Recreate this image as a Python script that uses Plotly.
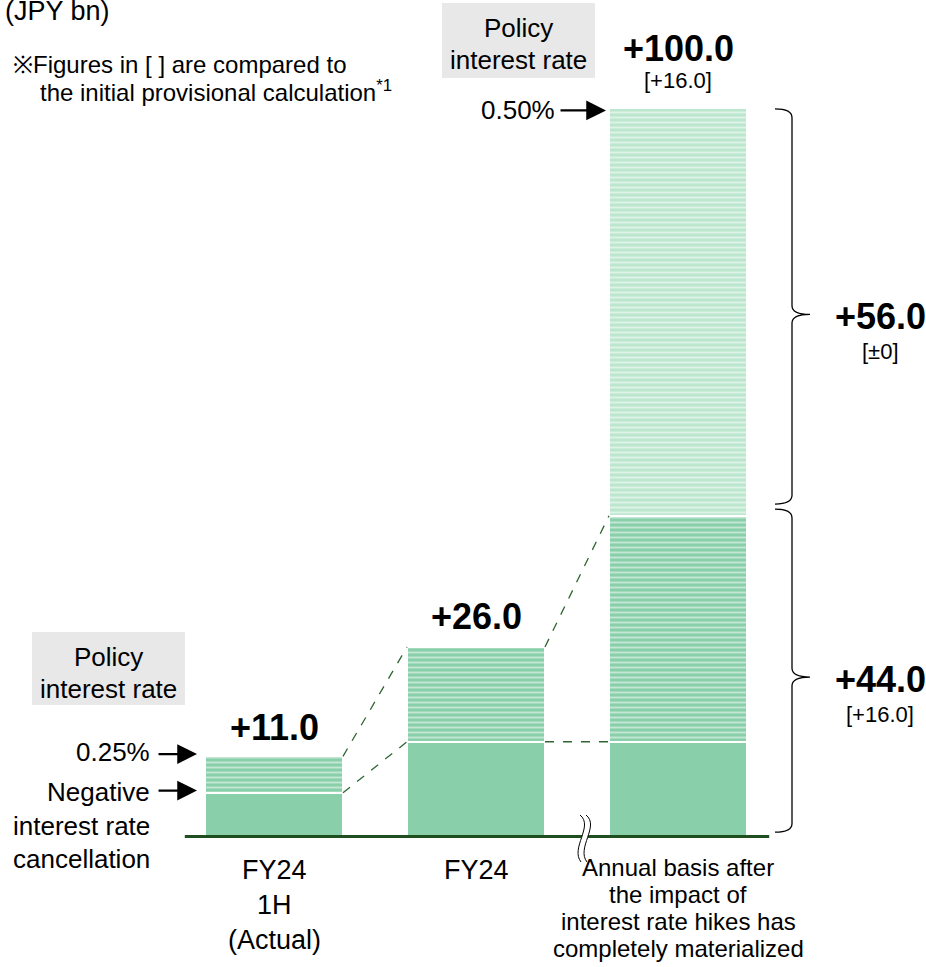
import plotly.graph_objects as go

W, H = 926, 967

# ---- data (JPY bn) ----
x_pos = [0, 1, 2]
neg_rate_cancel = [6.0, 13.0, 13.0]      # negative interest rate cancellation
policy_025 = [5.0, 13.0, 31.0]           # policy rate 0.25%
policy_050 = [0.0, 0.0, 56.0]            # policy rate 0.50%
totals = [11.0, 26.0, 100.0]
total_notes = ["", "", "[+16.0]"]
brace_values = [56.0, 44.0]
brace_notes = ["[\u00b10]", "[+16.0]"]
label_lines = [
    ["FY24", "1H", "(Actual)"],
    ["FY24"],
    ["Annual basis after", "the impact of", "interest rate hikes has", "completely materialized"],
]

GREEN = "#88CFAA"
GREEN_LIGHT = "#BDE6CF"
DARK = "#1F4F1F"
FONT = "Liberation Sans, Arial, sans-serif"
BAR_W = 0.683

# axis mapping: x centre of bar0 at 274px, 202px per unit; y=0 at 836.5px, 7.29px per unit
X0_PX, X_UNIT = 274, 202
Y0_PX, Y_UNIT = 836.5, 7.29
x_range = [-X0_PX / X_UNIT, (W - X0_PX) / X_UNIT]
y_range = [-(H - Y0_PX) / Y_UNIT, Y0_PX / Y_UNIT]


def px(x):
    return x / W


def py(y):
    return 1 - y / H


def dx(p):
    return (p - X0_PX) / X_UNIT


def dy(p):
    return (Y0_PX - p) / Y_UNIT


def pattern(bg):
    return dict(color=bg, line=dict(color="white", width=2.5),
                pattern=dict(shape="-", fgcolor="white", size=5, solidity=0.38, fillmode="overlay"))


def text(x, y, s, size, xref="paper", yref="paper", xanchor="center", yshift=0):
    return dict(x=x, y=y, xref=xref, yref=yref, text=s, showarrow=False,
                xanchor=xanchor, yanchor="middle", yshift=yshift,
                font=dict(size=size, color="black"))


fig = go.Figure()
fig.add_trace(go.Bar(x=x_pos, y=neg_rate_cancel, width=BAR_W,
                     marker=dict(color=GREEN, line=dict(color="white", width=2.5))))
fig.add_trace(go.Bar(x=x_pos, y=policy_025, width=BAR_W, marker=pattern(GREEN)))
fig.add_trace(go.Bar(x=x_pos, y=policy_050, width=BAR_W, marker=pattern(GREEN_LIGHT)))

shapes = []
ann = []

# baseline
shapes.append(dict(type="line", xref="x", yref="y", x0=-BAR_W / 2 - 0.1, x1=2 + BAR_W / 2 + 0.11,
                   y0=0, y1=0, line=dict(color=DARK, width=3), layer="above"))

# dashed connectors between bars
tops = [a + b + c for a, b, c in zip(neg_rate_cancel, policy_025, policy_050)]
mids = [a + b for a, b in zip(neg_rate_cancel, policy_025)]
conn = [
    (0, mids[0], 1, tops[1]),
    (0, neg_rate_cancel[0], 1, neg_rate_cancel[1]),
    (1, tops[1], 2, mids[2]),
    (1, neg_rate_cancel[1], 2, neg_rate_cancel[2]),
]
for i0, ya, i1, yb in conn:
    shapes.append(dict(type="line", xref="x", yref="y",
                       x0=x_pos[i0] + BAR_W / 2, y0=ya, x1=x_pos[i1] - BAR_W / 2, y1=yb,
                       line=dict(color="#2E6630", width=1.3, dash="dash")))


# braces on the right of the last bar
def brace(lo, hi, tip):
    xl, xv, xt = dx(775), dx(792), dx(810)
    ry = 1.2
    return (f"M {xl},{hi} Q {xv},{hi} {xv},{hi - ry} L {xv},{tip + ry} "
            f"Q {xv},{tip} {xt},{tip} Q {xv},{tip} {xv},{tip - ry} "
            f"L {xv},{lo + ry} Q {xv},{lo} {xl},{lo}")


brace_spans = [(mids[2] + 1.6, tops[2] - 0.2), (0.6, mids[2] + 0.9)]
for (lo, hi), val, note in zip(brace_spans, brace_values, brace_notes):
    tip = lo + 0.48 * (hi - lo)
    shapes.append(dict(type="path", xref="x", yref="y", path=brace(lo, hi, tip),
                       line=dict(color="black", width=1.3)))
    ann.append(text(3.0, tip, f"<b>+{val:.1f}</b>", 36, "x", "y", yshift=-2))
    ann.append(text(3.0, tip, note, 22, "x", "y", yshift=-37))

# axis break symbol between bar 2 and bar 3
c1 = [(580, 815), (594, 826), (570, 848), (581, 862)]
c2 = [(p[0] + 6, p[1]) for p in c1]


def curve(c):
    a, b, c_, d = c
    return f"M {dx(a[0])},{dy(a[1])} C {dx(b[0])},{dy(b[1])} {dx(c_[0])},{dy(c_[1])} {dx(d[0])},{dy(d[1])}"


fill = (curve(c1) + f" L {dx(c2[3][0])},{dy(c2[3][1])} C {dx(c2[2][0])},{dy(c2[2][1])} "
        f"{dx(c2[1][0])},{dy(c2[1][1])} {dx(c2[0][0])},{dy(c2[0][1])} Z")
shapes.append(dict(type="path", xref="x", yref="y", path=fill, fillcolor="white",
                   line=dict(width=0), layer="above"))
for c in (c1, c2):
    shapes.append(dict(type="path", xref="x", yref="y", path=curve(c),
                       line=dict(color="black", width=1), layer="above"))

# totals above bars
total_shift = [29, 30, 59]
for x, t, note, s in zip(x_pos, totals, total_notes, total_shift):
    ann.append(text(x, t, f"<b>+{t:.1f}</b>", 36, "x", "y", yshift=s))
    if note:
        ann.append(text(x, t, note, 22, "x", "y", yshift=27))

# category labels below baseline
line_y = [[870, 905, 940], [870], [867, 894, 921, 948]]
line_size = [27, 27, 24]
for x, lines, ys, fs in zip(x_pos, label_lines, line_y, line_size):
    for txt, yy in zip(lines, ys):
        ann.append(text(x, py(yy), txt, fs, "x", "paper"))

# grey "Policy interest rate" boxes
for bx0, by0, bx1, by1 in [(442, 3, 595, 78), (32, 632, 185, 705)]:
    shapes.append(dict(type="rect", xref="paper", yref="paper", x0=px(bx0), x1=px(bx1),
                       y0=py(by1), y1=py(by0), fillcolor="#E8E8E8", line=dict(width=0), layer="below"))
    cx = (bx0 + bx1) / 2
    for txt, yy in [("Policy", by0 + 25), ("interest rate", by0 + 57)]:
        ann.append(text(px(cx), py(yy), txt, 26))

# arrows pointing to bar segments
arrows = [
    (x_pos[0] - BAR_W / 2, mids[0] + 0.3, 8, -48),
    (x_pos[0] - BAR_W / 2, neg_rate_cancel[0] + 0.3, 8, -48),
    (x_pos[2] - BAR_W / 2, tops[2] - 0.4, 3, -50),
]
for ax_x, ax_y, stand, off in arrows:
    ann.append(dict(x=ax_x, y=ax_y, xref="x", yref="y", ax=off, ay=0, text="", showarrow=True,
                    arrowhead=2, arrowsize=1.8, arrowwidth=2.2, arrowcolor="black", standoff=stand))
for txt, xr, yy in [("0.25%", 152, 752), ("Negative", 152, 792), ("interest rate", 152, 826),
                    ("cancellation", 152, 859), ("0.50%", 557, 110)]:
    ann.append(text(px(xr), py(yy), txt, 26, xanchor="right"))

# header notes
ann.append(text(px(3), py(11), "(JPY bn)", 27, xanchor="left"))
ann.append(text(px(11), py(65), "\u203bFigures in [ ] are compared to", 24, xanchor="left"))
ann.append(text(px(38), py(91), "the initial provisional calculation<sup>*1</sup>", 24, xanchor="left"))

fig.update_layout(
    width=W, height=H, barmode="stack", bargap=0, showlegend=False,
    margin=dict(l=0, r=0, t=0, b=0),
    paper_bgcolor="white", plot_bgcolor="white",
    font=dict(family=FONT, color="black"),
    xaxis=dict(range=x_range, visible=False, fixedrange=True),
    yaxis=dict(range=y_range, visible=False, fixedrange=True),
    shapes=shapes, annotations=ann,
)

fig.write_html("out.html", config={"displayModeBar": False},
               post_script="document.body.style.margin='0';")
